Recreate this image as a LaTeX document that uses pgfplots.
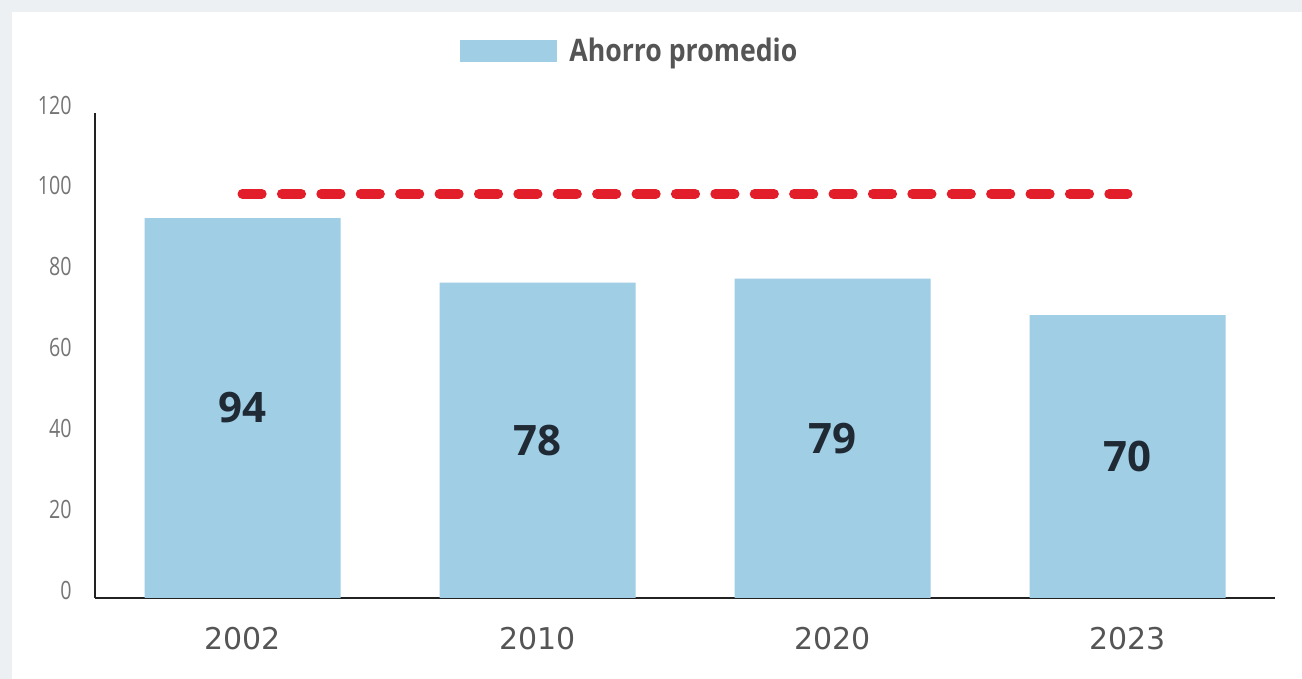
\documentclass[border=0pt]{standalone}
\usepackage{pgfplots}
\pgfplotsset{compat=1.18}
\usepackage{fontspec}
\setmainfont{Open Sans}
\newfontfamily\condfont[FakeStretch=0.86]{Open Sans}
\newfontfamily\tickfont[FakeStretch=0.78]{Open Sans}
\newfontfamily\yearfont{DejaVu Sans}
\definecolor{barblue}{HTML}{9FCEE5}
\definecolor{refred}{HTML}{E31E2B}
\definecolor{bggray}{HTML}{EDF0F3}
\definecolor{ticktext}{HTML}{757575}
\definecolor{yeartext}{HTML}{555555}
\definecolor{valtext}{HTML}{1F2A35}
\definecolor{axisline}{HTML}{222222}

\begin{document}
\begin{tikzpicture}
% page background and white panel
\fill[bggray] (0pt,0pt) rectangle (651pt,339.5pt);
\fill[white] (6pt,0pt) rectangle (651pt,333.5pt);
\begin{axis}[
    at={(47.5pt,40.5pt)}, anchor=south west,
    scale only axis,
    width=590pt, height=242.5pt,
    xmin=-0.5, xmax=3.5,
    ymin=0, ymax=120,
    axis x line*=bottom,
    axis y line*=left,
    axis line style={axisline, line width=1pt},
    major tick length=0pt,
    xtick={0,1,2,3},
    xticklabels={2002,2010,2020,2023},
    ytick={0,20,40,60,80,100,120},
    /pgf/number format/assume math mode=true,
    xticklabel style={font=\yearfont\fontsize{15}{18}\selectfont, text=yeartext,
        inner sep=0pt, anchor=base, yshift=-26pt},
    yticklabel style={font=\tickfont\fontsize{12.6}{15}\selectfont, text=ticktext,
        inner sep=0pt, anchor=east, xshift=-11.5pt, yshift=4pt},
    legend style={at={(0.3093,1.1278)}, anchor=west, draw=none, fill=none,
        inner sep=0pt,
        font=\condfont\bfseries\fontsize{15.5}{18}\selectfont, text=yeartext,
        /tikz/every odd column/.append style={column sep=4pt}},
    legend cell align=left,
    clip=false,
]
\addplot[ybar, bar shift=0pt, bar width=98pt, fill=barblue, draw=none,
    legend image code/.code={\fill[barblue] (0pt,-5.5pt) rectangle (48.5pt,5.5pt);}]
    coordinates {(0,94) (1,78) (2,79) (3,70)};
\addlegendentry{Ahorro promedio}

% reference line
\addplot[forget plot, refred, line width=5pt, line cap=round,
    dash pattern=on 9.6pt off 10.1pt]
    coordinates {(0,100) (3.0,100)};

% value labels at mid-height of each bar
\addplot[forget plot, draw=none, mark=none,
    nodes near coords, point meta=explicit symbolic,
    every node near coord/.style={anchor=center, text=valtext,
        font=\bfseries\fontsize{21}{24}\selectfont}]
    coordinates {(0,47)[94] (1,39)[78] (2,39.5)[79] (3,35)[70]};
\end{axis}
\end{tikzpicture}
\end{document}
